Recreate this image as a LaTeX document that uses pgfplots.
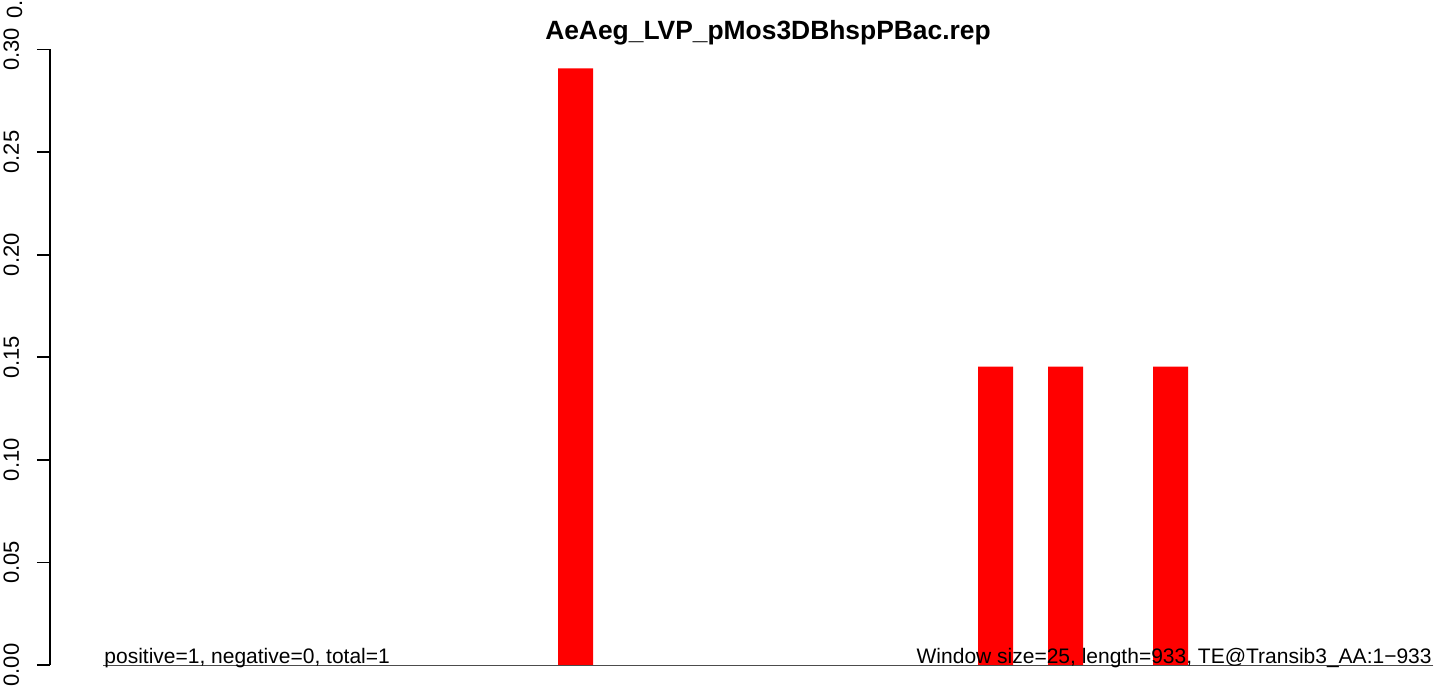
\documentclass[border=0pt]{standalone}
\usepackage{pgfplots}
\pgfplotsset{compat=1.18}
\usepackage{fontspec}
\setmainfont{Liberation Sans}
\begin{document}
\begin{tikzpicture}[x=0.5bp,y=-0.5bp]
\begin{axis}[
  at={(25bp,-332.5bp)}, anchor=south west,
  x=17.5bp, y=1026bp,
  xmin=-1.52, xmax=39.52,
  ymin=0, ymax=0.30,
  clip=false,
  axis lines*=left,
  x axis line style={draw=none},
  xtick=\empty,
  ytick={0,0.05,...,0.30},
  ytick pos=left,
  tick align=outside,
  major tick length=6.5bp,
  every tick/.style={black, line width=0.9bp},
  axis line style={black, line width=0.9bp},
  yticklabel style={rotate=90, anchor=base, yshift=9bp, font=\fontsize{11bp}{13bp}\selectfont},
  /pgf/number format/.cd, fixed, fixed zerofill, precision=2, assume math mode=true,
]
\addplot[ybar, bar width=1, fill=red, draw=none] coordinates {
 (0.5,0) (1.5,0) (2.5,0) (3.5,0) (4.5,0) (5.5,0) (6.5,0) (7.5,0) (8.5,0) (9.5,0)
 (10.5,0) (11.5,0) (12.5,0) (13.5,0.2907) (14.5,0) (15.5,0) (16.5,0) (17.5,0) (18.5,0) (19.5,0)
 (20.5,0) (21.5,0) (22.5,0) (23.5,0) (24.5,0) (25.5,0.1454) (26.5,0) (27.5,0.1454) (28.5,0) (29.5,0)
 (30.5,0.1454) (31.5,0) (32.5,0) (33.5,0) (34.5,0) (35.5,0) (36.5,0) (37.5,0)
};
\addplot[black!70, line width=0.5bp, mark=none] coordinates {(0,0) (38,0)};
\end{axis}
\node[anchor=base, font=\bfseries\fontsize{13.2bp}{15bp}\selectfont, inner sep=0] at (768,40) {AeAeg\_LVP\_pMos3DBhspPBac.rep};
\node[anchor=base west, font=\fontsize{10.5bp}{12bp}\selectfont, inner sep=0] at (104,663) {positive=1, negative=0, total=1};
\node[anchor=base east, font=\fontsize{10.5bp}{12bp}\selectfont, inner sep=0] at (1432,663) {Window size=25, length=933, TE@Transib3\_AA:1\textminus933};
\node[rotate=90, anchor=base west, font=\fontsize{11bp}{13bp}\selectfont, inner sep=0] at (22,19) {0.35};
\pgfresetboundingbox
\useasboundingbox (0,0) rectangle (1444,687);
\end{tikzpicture}
\end{document}
